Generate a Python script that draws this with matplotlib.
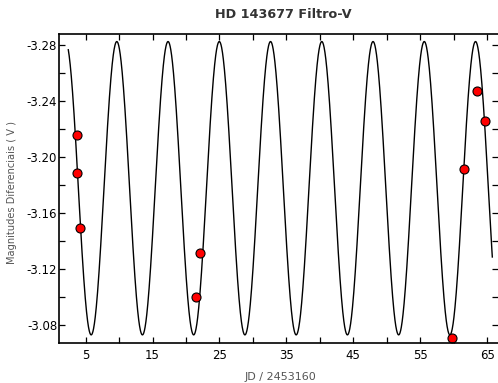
import numpy as np
import matplotlib
matplotlib.use("Agg")
import matplotlib.pyplot as plt
from matplotlib.ticker import MultipleLocator, FixedLocator

# observed differential magnitudes (JD - 2453160)
obs_jd = [3.66, 3.74, 4.10, 21.49, 22.04, 59.71, 61.50, 63.53, 64.64]
obs_mag = [-3.2157, -3.1884, -3.1491, -3.0998, -3.1314, -3.0709, -3.1912, -3.2471, -3.2255]

# sinusoidal fit
fit_period = 7.66
fit_epoch_max = 9.65
fit_mean = -3.1777
fit_amp = 0.1048
fit_start, fit_end = 2.40, 65.78

x_major = [5, 15, 25, 35, 45, 55, 65]
y_major = [-3.28, -3.24, -3.20, -3.16, -3.12, -3.08]

plt.rcParams['axes.unicode_minus'] = False
plt.rcParams['font.family'] = 'DejaVu Sans'

fig = plt.figure(figsize=(4.98, 3.83), dpi=100)
ax = fig.add_axes([0.119, 0.1037, 0.881, 0.8076])

t = np.linspace(fit_start, fit_end, 2000)
model = fit_mean - fit_amp * np.cos(2 * np.pi * (t - fit_epoch_max) / fit_period)
ax.plot(t, model, color='black', lw=1.0)
ax.plot(obs_jd, obs_mag, 'o', ms=6.5, mfc='#ff0000', mec='black', mew=0.8)

ax.set_xlim(1.05, 66.63)
ax.set_ylim(-3.0669, -3.2879)

ax.xaxis.set_major_locator(FixedLocator(x_major))
ax.xaxis.set_minor_locator(MultipleLocator(5))
ax.yaxis.set_major_locator(FixedLocator(y_major))
ax.yaxis.set_minor_locator(MultipleLocator(0.02))
ax.set_yticklabels([f"{v:.2f}" for v in y_major])

for which in ('major', 'minor'):
    ax.tick_params(axis='both', which=which, direction='in', length=4.2, width=0.9,
                   top=True, right=True, color='black')
ax.tick_params(axis='x', which='major', labelsize=8.5, pad=4)
ax.tick_params(axis='y', which='major', labelsize=8.5, pad=1.5)

for s in ax.spines.values():
    s.set_linewidth(1.2)
ax.spines['right'].set_visible(False)

ax.set_xlabel("JD / 2453160", fontsize=8, color='#555555')
ax.xaxis.set_label_coords(0.503, -0.093)
ax.set_ylabel("Magnitudes Diferenciais ( V )", fontsize=7.1, color='#555555')
ax.yaxis.set_label_coords(-0.0964, 0.4876)
ax.set_title("HD 143677 Filtro-V", fontsize=9.2, fontweight='bold', color='#333333',
             x=0.511, y=1.051, pad=0)

fig.savefig("out.png", dpi=100)
